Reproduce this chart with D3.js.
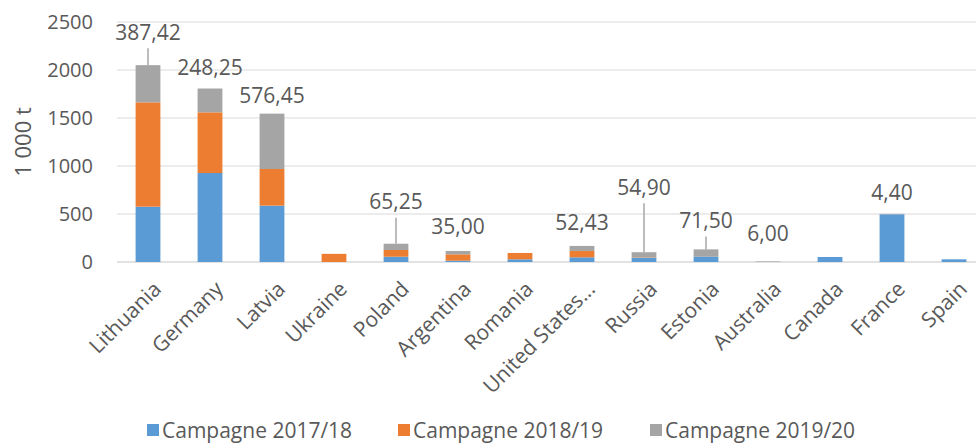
<!DOCTYPE html>
<html>
<head>
    <title>Stacked Columns</title>
    <script src="https://cdn.jsdelivr.net/npm/d3@7/dist/d3.min.js"></script>
</head>
<style>
body {
    margin: 0;
    background: white;
}
text {
    font-family: "Open Sans", "Noto Sans", sans-serif;
    fill: #595959;
}
</style>
<body>
<script>

var countries = ["Lithuania", "Germany", "Latvia", "Ukraine", "Poland", "Argentina", "Romania",
                 "United States...", "Russia", "Estonia", "Australia", "Canada", "France", "Spain"];
var seriesNames = ["Campagne 2017/18", "Campagne 2018/19", "Campagne 2019/20"];
var camp1718 = [576, 927, 587, 0, 55, 14, 28, 49, 42, 58, 0, 52, 497, 28];
var camp1819 = [1087, 632, 382, 85, 70, 66, 66, 66, 5, 2, 0, 0, 0, 0];
var camp1920 = [387.42, 248.25, 576.45, 0, 65.25, 35.00, 0, 52.43, 54.90, 71.50, 6.00, 0, 4.40, 0];
var yTicks = [0, 500, 1000, 1500, 2000, 2500];

// labels were dragged by hand in the original, so each gets its own lift (px) above the bar top
var labelLift = [33, 21, 18, null, 42, 25, null, 23, 65, 29, 28, null, 21, null];
var hasLeader = [true, false, false, false, true, false, false, false, true, true, false, false, false, false];
var colors = ["#5B9BD5", "#ED7D31", "#A5A5A5"];

var w = 976, h = 443;
var plotLeft = 117, plotRight = 985, plotTop = 22, plotBottom = 262;

var svg = d3.select("body").append("svg")
    .attr("width", w)
    .attr("height", h);

var rows = countries.map(function(c, i) {
    return {country: c, s0: camp1718[i], s1: camp1819[i], s2: camp1920[i], i: i};
});
var stack = d3.stack().keys(["s0", "s1", "s2"])(rows);

var x = d3.scaleBand()
    .domain(countries)
    .range([plotLeft, plotRight])
    .paddingInner(0.6)
    .paddingOuter(0.3);
var y = d3.scaleLinear()
    .domain([0, 2500])
    .range([plotBottom, plotTop]);

// gridlines
svg.append("g")
    .selectAll("line")
    .data(yTicks)
    .enter()
    .append("line")
    .attr("x1", plotLeft)
    .attr("x2", w)
    .attr("y1", function(d) { return y(d); })
    .attr("y2", function(d) { return y(d); })
    .attr("stroke", "#d9d9d9")
    .attr("stroke-width", function(d) { return d === 0 ? 1.5 : 1.2; });

// y tick labels
svg.append("g")
    .selectAll("text")
    .data(yTicks)
    .enter()
    .append("text")
    .text(function(d) { return d; })
    .attr("x", 93)
    .attr("y", function(d) { return y(d); })
    .attr("dy", "0.36em")
    .attr("text-anchor", "end")
    .attr("font-size", "20px");

svg.append("text")
    .text("1 000 t")
    .attr("transform", "translate(31," + ((plotTop + plotBottom) / 2) + ") rotate(-90)")
    .attr("text-anchor", "middle")
    .attr("font-size", "22px");

// bars
svg.append("g")
    .selectAll("g")
    .data(stack)
    .enter()
    .append("g")
    .attr("fill", function(d, k) { return colors[k]; })
    .selectAll("rect")
    .data(function(d) { return d; })
    .enter()
    .append("rect")
    .attr("x", function(d) { return x(d.data.country); })
    .attr("width", x.bandwidth())
    .attr("y", function(d) { return y(d[1]); })
    .attr("height", function(d) { return y(d[0]) - y(d[1]); });

// value labels of the last campaign
var labelled = rows.filter(function(d) { return labelLift[d.i] !== null; });
var totalOf = function(d) { return d.s0 + d.s1 + d.s2; };
var fmt = function(v) { return v.toFixed(2).replace(".", ","); };

svg.append("g")
    .selectAll("line")
    .data(labelled.filter(function(d) { return hasLeader[d.i]; }))
    .enter()
    .append("line")
    .attr("x1", function(d) { return x(d.country) + x.bandwidth() / 2; })
    .attr("x2", function(d) { return x(d.country) + x.bandwidth() / 2; })
    .attr("y1", function(d) { return y(totalOf(d)); })
    .attr("y2", function(d) { return y(totalOf(d)) - labelLift[d.i] + 16; })
    .attr("stroke", "#a6a6a6")
    .attr("stroke-width", 1.5);

svg.append("g")
    .selectAll("text")
    .data(labelled)
    .enter()
    .append("text")
    .text(function(d) { return fmt(d.s2); })
    .attr("x", function(d) { return x(d.country) + x.bandwidth() / 2; })
    .attr("y", function(d) { return y(totalOf(d)) - labelLift[d.i]; })
    .attr("dy", "0.36em")
    .attr("text-anchor", "middle")
    .attr("font-size", "21px");

// category labels
svg.append("g")
    .selectAll("text")
    .data(countries)
    .enter()
    .append("text")
    .text(function(d) { return d; })
    .attr("transform", function(d) {
        return "translate(" + (x(d) + x.bandwidth() / 2 + 4) + "," + (plotBottom + 18) + ") rotate(-45)";
    })
    .attr("text-anchor", "end")
    .attr("dy", "0.7em")
    .attr("font-size", "21px");

// legend
var legendX = [147, 398, 650];
var legend = svg.append("g")
    .selectAll("g")
    .data(seriesNames)
    .enter()
    .append("g")
    .attr("transform", function(d, i) { return "translate(" + legendX[i] + ",424)"; });
legend.append("rect")
    .attr("width", 12)
    .attr("height", 12)
    .attr("fill", function(d, i) { return colors[i]; });
legend.append("text")
    .text(function(d) { return d; })
    .attr("x", 15)
    .attr("y", 6)
    .attr("dy", "0.36em")
    .attr("font-size", "21px");

</script>
</body>
</html>
